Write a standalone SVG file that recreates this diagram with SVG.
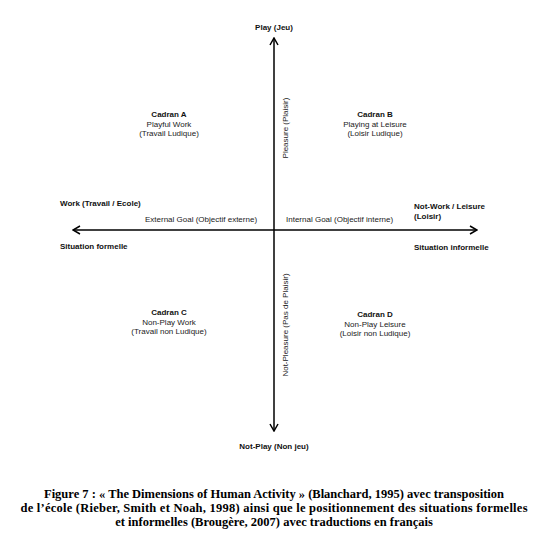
<svg xmlns="http://www.w3.org/2000/svg" width="549" height="546" viewBox="0 0 549 546">
<defs>
<style>
.b{font-family:"Liberation Sans",Arial,sans-serif;font-size:8px;font-weight:bold;fill:#111}
.r{font-family:"Liberation Sans",Arial,sans-serif;font-size:8px;fill:#222}
.m{text-anchor:middle}
.cap{font-family:"Liberation Serif","Times New Roman",serif;font-size:12.5px;font-weight:bold;fill:#000;text-anchor:middle}
.ax{stroke:#000;stroke-width:1.5;fill:none}
</style>
<marker id="ah" viewBox="0 0 10 10" refX="9" refY="5" markerWidth="10" markerHeight="10" markerUnits="userSpaceOnUse" orient="auto">
<path d="M2,1 L9,5 L2,9" fill="none" stroke="#000" stroke-width="1.5"/>
</marker>
</defs>
<rect width="549" height="546" fill="#fff"/>
<g id="connectors">
<line class="ax" x1="274" y1="230" x2="274" y2="38" marker-end="url(#ah)"/>
<line class="ax" x1="274" y1="230" x2="274" y2="431" marker-end="url(#ah)"/>
<line class="ax" x1="274" y1="230" x2="73" y2="230" marker-end="url(#ah)"/>
<line class="ax" x1="274" y1="230" x2="477" y2="230" marker-end="url(#ah)"/>
</g>
<g id="axis-labels">
<text class="b m" x="274" y="30">Play (Jeu)</text>
<text class="b m" x="274" y="449">Not-Play (Non jeu)</text>
<text class="b" x="60" y="206">Work (Travail / Ecole)</text>
<text class="b" x="60" y="249">Situation formelle</text>
<text class="b" x="414" y="209">Not-Work / Leisure</text>
<text class="b" x="414" y="219">(Loisir)</text>
<text class="b" x="414" y="250">Situation informelle</text>
<text class="r" x="145" y="222">External Goal (Objectif externe)</text>
<text class="r" x="286" y="222">Internal Goal (Objectif interne)</text>
<text class="r m" transform="translate(288,128) rotate(-90)">Pleasure (Plaisir)</text>
<text class="r m" transform="translate(288,325) rotate(-90)">Not-Pleasure (Pas de Plaisir)</text>
</g>
<g id="cadranA">
<text class="b m" x="169" y="117">Cadran A</text>
<text class="r m" x="169" y="127">Playful Work</text>
<text class="r m" x="169" y="136">(Travail Ludique)</text>
</g>
<g id="cadranB">
<text class="b m" x="375" y="117">Cadran B</text>
<text class="r m" x="375" y="127">Playing at Leisure</text>
<text class="r m" x="375" y="136">(Loisir Ludique)</text>
</g>
<g id="cadranC">
<text class="b m" x="169" y="315">Cadran C</text>
<text class="r m" x="169" y="325">Non-Play Work</text>
<text class="r m" x="169" y="334">(Travail non Ludique)</text>
</g>
<g id="cadranD">
<text class="b m" x="375" y="317">Cadran D</text>
<text class="r m" x="375" y="327">Non-Play Leisure</text>
<text class="r m" x="375" y="336">(Loisir non Ludique)</text>
</g>
<g id="caption">
<text class="cap" x="274" y="498">Figure 7 : « The Dimensions of Human Activity » (Blanchard, 1995) avec transposition</text>
<text class="cap" x="274" y="512" textLength="507" lengthAdjust="spacing">de l’école (Rieber, Smith et Noah, 1998) ainsi que le positionnement des situations formelles</text>
<text class="cap" x="274" y="526">et informelles (Brougère, 2007) avec traductions en français</text>
</g>
</svg>
